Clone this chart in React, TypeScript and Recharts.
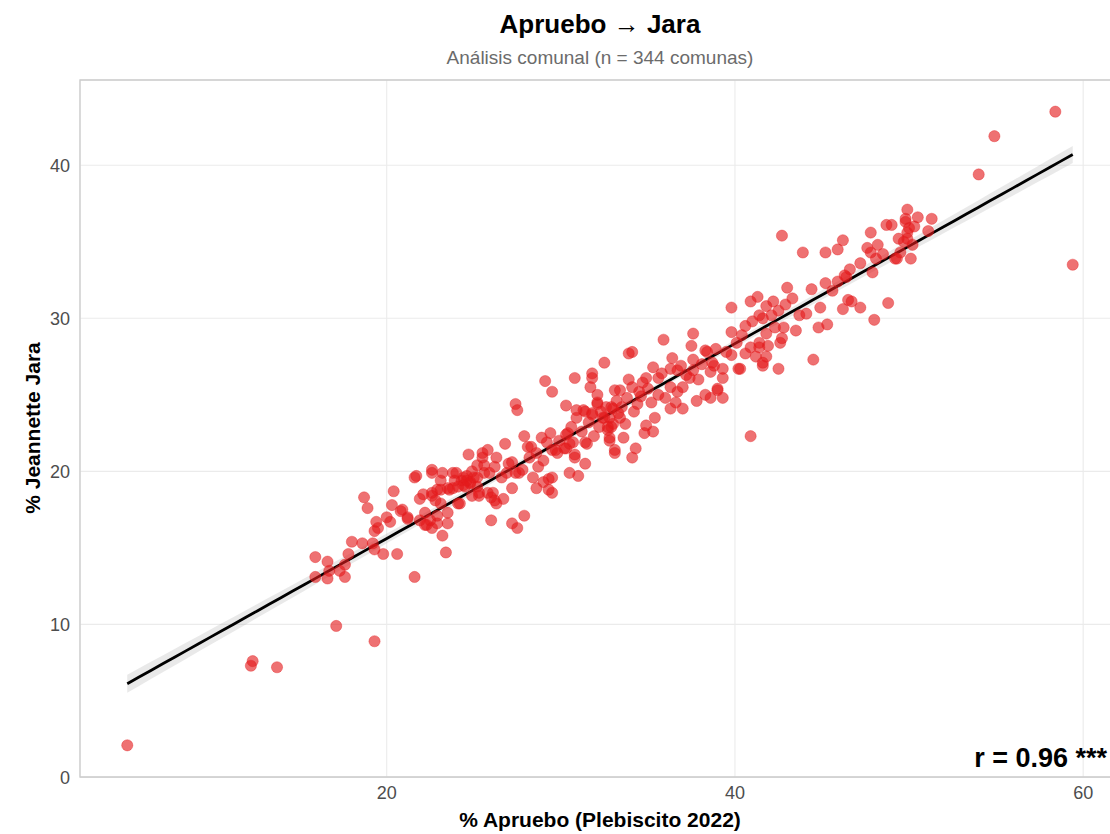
import React from 'react';
import {
  ComposedChart,
  Scatter,
  Line,
  Area,
  XAxis,
  YAxis,
  CartesianGrid,
  ReferenceArea,
} from 'recharts';

// % Apruebo (Plebiscito 2022) per comuna
const apruebo: number[] = [
  5.1, 12.2, 12.3, 13.7, 58.4, 54.9, 54.0, 59.4,
  18.7, 18.9, 20.4, 21.7, 20.3, 20.8, 21.2, 20.0, 20.2, 19.4, 19.5, 19.3, 18.0, 18.6, 19.2, 19.3, 19.8, 20.6, 15.9, 16.6, 17.8, 17.6, 17.3, 16.7, 15.9, 16.6, 17.6, 21.6, 17.1, 19.3,
  22.1, 22.6, 22.2, 22.5, 22.3, 22.9, 23.5, 23.2, 23.4, 23.5, 26.0, 23.1, 22.9, 23.6, 24.2, 24.8, 24.4, 25.2, 25.9, 25.3, 26.1, 26.3, 26.7, 22.6, 23.2, 23.8,
  27.4, 27.5, 30.3, 30.9, 31.4, 32.1, 31.8, 32.6, 33.0, 32.5, 33.0, 32.7, 33.1, 32.8, 26.8, 28.3, 28.9, 29.2, 28.6, 29.5, 29.8, 29.0, 28.7, 29.3, 29.0, 28.6, 29.3, 30.4, 30.7, 30.3, 31.5, 30.8, 31.4, 30.5, 31.0, 28.4, 28.1, 27.2, 26.9, 27.6, 27.2, 27.9, 27.2, 27.5,
  24.7, 25.5, 25.8, 25.5, 25.2, 26.2, 25.6, 24.6, 24.3, 24.8, 25.2, 24.0, 23.9, 22.6, 23.1, 23.5, 23.1, 22.6, 21.9, 22.8, 24.1, 24.9, 25.3, 25.8, 26.2, 26.0, 24.5, 21.6, 20.9, 21.2, 21.9, 22.9, 22.2, 22.6, 27.0, 27.4,
  37.6, 37.5, 35.9, 38.4, 38.9, 39.8, 40.4, 40.1, 40.9, 41.4, 41.8, 40.6, 39.8, 41.6, 41.2, 39.3, 38.7, 38.6, 39.3, 40.2, 39.0, 39.3, 38.6, 38.3, 37.8, 40.9, 37.6, 37.6, 37.4, 37.0, 36.7, 36.6, 37.0, 36.3, 36.0, 36.3, 36.7, 36.3, 36.4, 35.3, 34.9, 35.6, 34.7, 34.5, 34.1, 34.4, 35.2, 35.4, 34.9, 35.3, 34.8, 34.3, 34.1, 33.9, 34.1, 32.5, 33.9, 31.8, 31.8, 31.7, 32.1, 32.1, 33.1, 33.4, 33.2, 32.9, 33.8, 33.5, 32.8, 33.4, 32.9, 33.6, 33.1, 32.8, 32.7, 30.8, 29.5, 31.3, 31.8, 30.9, 31.6, 32.4, 32.2, 30.3, 30.5, 31.4, 30.2, 29.7, 30.8, 29.5, 29.5, 29.1,
  42.7, 43.9, 45.2, 45.9, 46.2, 47.8, 48.7, 49.0, 49.8, 49.9, 49.7, 50.2, 48.2, 47.8, 48.1, 49.3, 50.1, 47.9, 46.6, 46.4, 45.9, 45.6, 46.5, 46.7, 46.2, 47.2, 48.8, 48.0, 43.0, 41.3, 40.9, 42.2, 39.8, 41.4, 41.6, 42.5, 42.1, 43.7, 44.1, 44.9, 44.8, 45.3, 43.5, 42.8, 42.3, 42.7, 42.6, 41.9, 41.4, 41.8, 41.6, 42.5, 44.5, 40.3, 39.0, 38.3,
  49.9, 50.5, 51.3, 49.8, 51.1, 49.9, 49.5, 49.2, 46.3,
  24.4, 24.6, 24.1, 25.0, 23.8, 24.9, 25.6, 26.3, 26.6, 27.8, 28.2, 29.9, 29.4, 30.6, 31.2, 31.9, 32.3, 33.3, 33.7, 34.2, 34.6, 35.0, 35.6, 35.8, 36.9, 37.2, 37.9, 38.1, 38.8, 39.5, 40.6, 41.0, 41.8, 42.9, 43.3, 44.4, 45.2, 47.2, 47.6, 48.5, 49.4, 50.0, 50.3, 27.9,
];

// % Jeannette Jara per comuna (same order)
const jara: number[] = [
  2.1, 7.3, 7.6, 7.2, 43.5, 41.9, 39.4, 33.5,
  18.3, 17.6, 18.7, 19.7, 17.8, 17.4, 16.9, 17.0, 16.7, 16.7, 16.3, 16.1, 15.4, 15.3, 15.3, 14.9, 14.6, 14.6, 14.4, 14.1, 14.6, 13.9, 13.5, 13.5, 13.1, 13.0, 13.1, 13.1, 9.9, 8.9,
  18.5, 18.6, 17.3, 16.8, 16.5, 16.6, 16.6, 15.8, 14.7, 17.3, 16.8, 17.9, 18.8, 18.8, 17.9, 19.2, 19.6, 19.6, 19.9, 18.6, 18.6, 17.9, 18.2, 19.9, 19.9, 19.9,
  24.4, 24.0, 24.3, 24.0, 23.9, 24.4, 23.7, 24.2, 24.1, 23.5, 23.1, 22.7, 21.4, 22.0, 21.8, 21.6, 22.2, 21.9, 21.2, 21.4, 21.2, 20.7, 20.3, 19.5, 19.3, 18.9, 18.8, 22.5, 21.9, 21.5, 21.8, 21.1, 20.5, 19.9, 19.7, 19.6, 21.6, 20.6, 19.9, 19.9, 18.9, 17.1, 16.6, 16.3,
  21.1, 21.2, 21.4, 20.9, 20.4, 20.3, 19.9, 19.7, 19.4, 19.3, 19.0, 19.9, 19.4, 20.1, 19.4, 18.9, 18.8, 18.4, 18.2, 18.1, 17.9, 18.4, 18.4, 18.6, 18.1, 18.3, 19.0, 19.6, 17.5, 17.0, 16.8, 17.1, 16.5, 16.3, 20.5, 19.9,
  29.0, 28.2, 28.6, 27.8, 28.0, 29.1, 28.9, 28.4, 28.1, 28.4, 29.0, 27.7, 27.6, 27.1, 27.5, 26.7, 27.1, 26.5, 26.1, 26.7, 25.3, 24.8, 24.8, 25.0, 24.6, 22.3, 27.3, 26.6, 26.1, 25.5, 25.2, 24.5, 24.1, 24.1, 24.8, 25.5, 26.6, 26.7, 27.4, 26.8, 26.1, 26.1, 25.8, 25.2, 25.5, 24.4, 24.5, 23.5, 23.0, 22.6, 22.5, 21.5, 20.9, 27.7, 27.8, 27.1, 26.0, 26.4, 26.1, 25.5, 25.0, 24.5, 25.3, 25.3, 24.6, 24.2, 24.8, 24.2, 23.5, 23.5, 22.9, 22.2, 21.2, 22.2, 22.9, 26.1, 25.2, 24.0, 23.8, 23.5, 23.2, 23.5, 22.9, 22.4, 21.8, 21.9, 21.5, 21.4, 20.9, 19.6, 18.6, 25.9,
  35.4, 34.3, 34.3, 34.5, 35.1, 35.6, 36.1, 36.1, 36.3, 35.6, 35.0, 34.8, 34.8, 34.3, 33.9, 33.9, 33.9, 33.0, 33.2, 32.7, 32.4, 31.8, 31.2, 31.1, 30.6, 30.7, 31.0, 29.9, 32.0, 31.4, 31.1, 31.1, 30.7, 30.2, 30.0, 30.5, 30.2, 30.2, 30.3, 30.7, 29.4, 29.6, 29.2, 29.4, 29.4, 28.7, 28.4, 28.2, 28.1, 27.5, 26.9, 26.7, 27.3, 26.7, 25.4, 27.9,
  37.1, 36.6, 36.5, 36.5, 35.7, 35.2, 34.3, 33.9, 32.8,
  19.1, 19.4, 19.0, 19.6, 18.9, 20.0, 20.4, 20.9, 19.6, 20.1, 20.9, 22.0, 22.5, 22.9, 22.6, 22.3, 23.9, 23.8, 23.1, 23.9, 24.9, 25.4, 25.0, 26.4, 26.9, 26.3, 26.0, 27.0, 26.9, 27.8, 29.5, 29.8, 30.8, 30.9, 31.3, 31.9, 32.3, 33.6, 34.6, 34.2, 35.2, 35.9, 36.0, 22.3,
];

const xTicks = [20, 40, 60];
const yTicks = [0, 10, 20, 30, 40];

const titleText = 'Apruebo → Jara';
const subtitleText = 'Análisis comunal (n = 344 comunas)';
const xLabelText = '% Apruebo (Plebiscito 2022)';
const yLabelText = '% Jeannette Jara';
const rLabelText = 'r = 0.96 ***';

const FONT = '"Liberation Sans", Arial, Helvetica, sans-serif';
const POINT_COLOR = '#e41a1c';

// ---- derived: points, least-squares fit with 95% confidence band ----
const points = apruebo.map((x, i) => ({ x, y: jara[i] }));
const n = points.length;
const mx = apruebo.reduce((s, v) => s + v, 0) / n;
const my = jara.reduce((s, v) => s + v, 0) / n;
let sxx = 0;
let sxy = 0;
points.forEach((p) => {
  sxx += (p.x - mx) * (p.x - mx);
  sxy += (p.x - mx) * (p.y - my);
});
const slope = sxy / sxx;
const intercept = my - slope * mx;
let sse = 0;
points.forEach((p) => {
  const r = p.y - (intercept + slope * p.x);
  sse += r * r;
});
const sigma = Math.sqrt(sse / (n - 2));
const tCrit = 1.967;
const xMin = Math.min(...apruebo);
const xMax = Math.max(...apruebo);
const yMin = Math.min(...jara);
const yMax = Math.max(...jara);
const STEPS = 80;
const fitData = Array.from({ length: STEPS + 1 }, (_, k) => {
  const x = xMin + ((xMax - xMin) * k) / STEPS;
  const yh = intercept + slope * x;
  const se = sigma * Math.sqrt(1 / n + ((x - mx) * (x - mx)) / sxx);
  return { x, y: yh, band: [yh - tCrit * se, yh + tCrit * se] };
});

// ggplot-like 5% expansion of the data range
const xDomain: [number, number] = [xMin - 0.05 * (xMax - xMin), xMax + 0.05 * (xMax - xMin)];
const yDomain: [number, number] = [yMin - 0.05 * (yMax - yMin), yMax + 0.05 * (yMax - yMin)];

const Dot = (props: any) => {
  const { cx, cy } = props;
  if (cx == null || cy == null) return null;
  return (
    <circle
      cx={cx}
      cy={cy}
      r={5.6}
      fill={POINT_COLOR}
      fillOpacity={0.62}
      stroke={POINT_COLOR}
      strokeOpacity={0.45}
      strokeWidth={0.8}
    />
  );
};

export default function App() {
  return (
    <div
      style={{
        position: 'absolute',
        left: 0,
        top: 0,
        width: 1110,
        height: 834,
        overflow: 'hidden',
        background: '#ffffff',
        fontFamily: FONT,
      }}
    >
      <ComposedChart
        width={1130}
        height={834}
        margin={{ top: 80, right: 10, bottom: 27, left: 20 }}
        style={{ position: 'absolute', left: 0, top: 0 }}
      >
        <CartesianGrid stroke="#ebebeb" strokeWidth={1.1} ticks={undefined} />
        <XAxis
          type="number"
          dataKey="x"
          domain={xDomain}
          allowDataOverflow
          ticks={xTicks}
          height={30}
          axisLine={false}
          tickLine={false}
          tickSize={0}
          tickMargin={9}
          tick={{ fill: '#4d4d4d', fontSize: 18, fontFamily: FONT }}
        />
        <YAxis
          type="number"
          dataKey="y"
          domain={yDomain}
          allowDataOverflow
          ticks={yTicks}
          width={60}
          axisLine={false}
          tickLine={false}
          tickSize={0}
          tickMargin={10}
          tick={{ fill: '#4d4d4d', fontSize: 18, fontFamily: FONT }}
        />
        <ReferenceArea
          x1={xDomain[0]}
          x2={xDomain[1]}
          y1={yDomain[0]}
          y2={yDomain[1]}
          fill="none"
          fillOpacity={0}
          stroke="#cccccc"
          strokeWidth={1.3}
          ifOverflow="visible"
        />
        <Scatter data={points} dataKey="y" shape={Dot} isAnimationActive={false} />
        <Area
          data={fitData}
          dataKey="band"
          type="linear"
          stroke="none"
          fill="#999999"
          fillOpacity={0.22}
          isAnimationActive={false}
          activeDot={false}
        />
        <Line
          data={fitData}
          dataKey="y"
          type="linear"
          stroke="#000000"
          strokeWidth={2.8}
          dot={false}
          activeDot={false}
          isAnimationActive={false}
        />
      </ComposedChart>
      <svg
        width={1110}
        height={834}
        style={{ position: 'absolute', left: 0, top: 0, pointerEvents: 'none' }}
      >
        <text x={600} y={33} textAnchor="middle" fontFamily={FONT} fontWeight="bold" fontSize={26} fill="#000">
          {titleText}
        </text>
        <text x={600} y={64} textAnchor="middle" fontFamily={FONT} fontSize={19} fill="#6b6b6b">
          {subtitleText}
        </text>
        <text x={600} y={827} textAnchor="middle" fontFamily={FONT} fontWeight="bold" fontSize={21} fill="#000">
          {xLabelText}
        </text>
        <text
          x={40}
          y={428}
          textAnchor="middle"
          fontFamily={FONT}
          fontWeight="bold"
          fontSize={21}
          fill="#000"
          transform="rotate(-90 40 428)"
        >
          {yLabelText}
        </text>
        <text x={1107} y={767} textAnchor="end" fontFamily={FONT} fontWeight="bold" fontSize={27} fill="#000">
          {rLabelText}
        </text>
      </svg>
    </div>
  );
}
